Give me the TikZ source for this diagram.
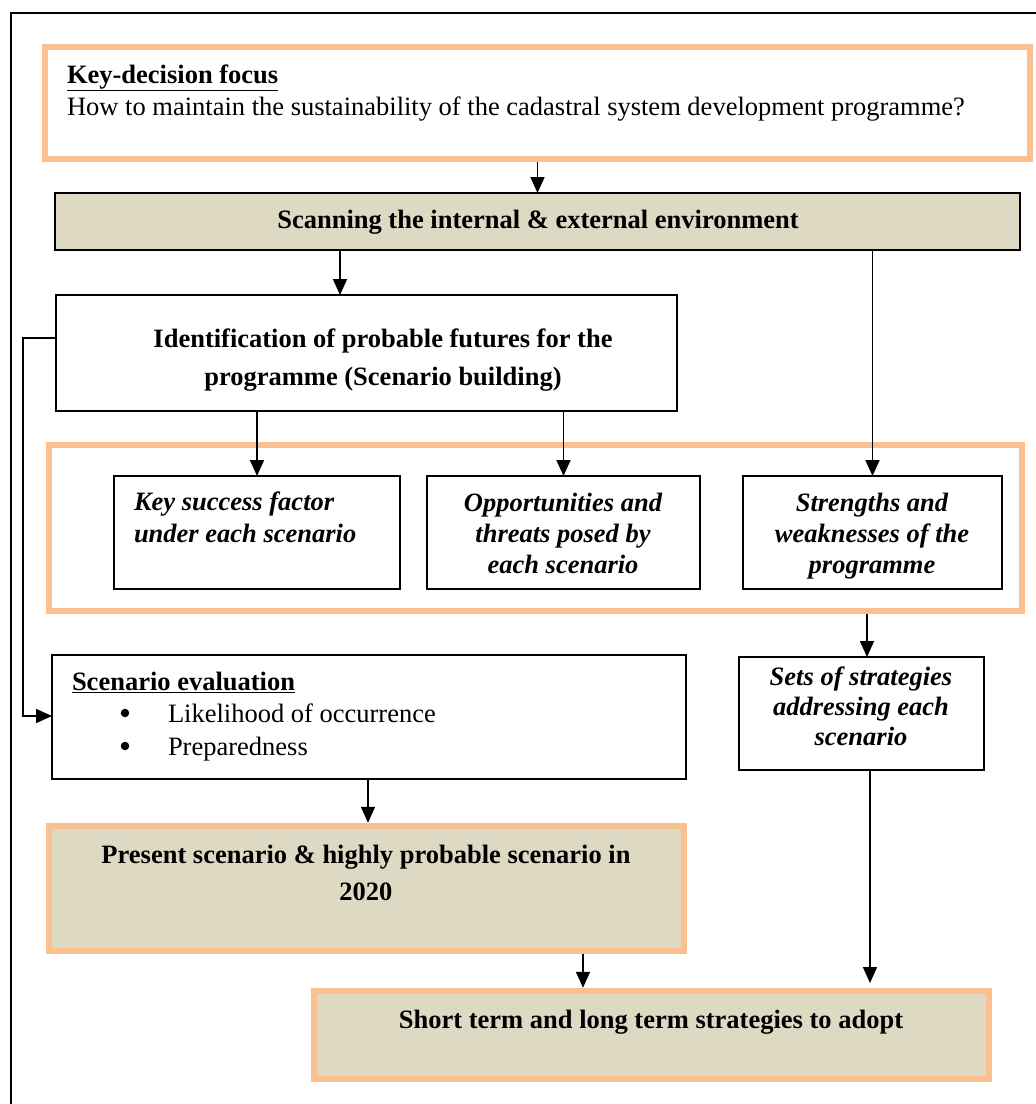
\documentclass[tikz,border=0pt]{standalone}
\usepackage{fontspec}
\setmainfont{Liberation Serif}
\usetikzlibrary{arrows.meta}
\definecolor{peach}{HTML}{FAC090}
\definecolor{khaki}{HTML}{DDD9C3}
\begin{document}
\begin{tikzpicture}[x=1pt,y=-1pt,
  every node/.style={font=\fontsize{26.5}{32}\selectfont, inner sep=0pt, outer sep=0pt},
  plainbox/.style={draw=black, line width=1.5pt, fill=white},
  heavybox/.style={draw=black, line width=2.2pt, fill=white},
  peachbox/.style={draw=peach, line width=6.5pt, outer sep=3.25pt},
  bftext/.style={font=\fontsize{26.5}{#1}\selectfont\bfseries},
  bitext/.style={font=\fontsize{26.5}{#1}\selectfont\bfseries\itshape},
  bulletdot/.style={circle, fill=black, minimum size=8.5pt},
  arr/.style={line width=1.7pt, -{Triangle[length=16pt,width=14pt]}}
]
\useasboundingbox (0,0) rectangle (1036,1104);

% page frame
\draw[line width=2pt] (1045,13) -- (11,13) -- (11,1115);

% boxes
\node[peachbox, fill=white, minimum width=985pt, minimum height=112pt] (key) at (537.5,103) {};
\node[draw=black, line width=1.5pt, fill=khaki, minimum width=965pt, minimum height=57pt] (scan) at (537.5,221.5) {};
\node[heavybox, minimum width=621pt, minimum height=116pt] (ident) at (366.5,353) {};
\node[peachbox, fill=white, minimum width=973pt, minimum height=166pt] (group) at (535.5,528) {};
\node[plainbox, minimum width=286pt, minimum height=113pt] (ksf) at (257,532.5) {};
\node[plainbox, minimum width=273pt, minimum height=113pt] (opp) at (563.5,532.5) {};
\node[plainbox, minimum width=259pt, minimum height=113pt] (str) at (872.5,532.5) {};
\node[plainbox, minimum width=245pt, minimum height=113pt] (sets) at (861.5,713.5) {};
\node[plainbox, minimum width=634pt, minimum height=124pt] (eval) at (369,717) {};
\node[peachbox, fill=khaki, minimum width=635pt, minimum height=125pt] (present) at (366.5,888.5) {};
\node[peachbox, fill=khaki, minimum width=675pt, minimum height=88pt] (short) at (651.5,1035) {};

% connector columns and corners
\coordinate (xa) at (340,0);
\coordinate (xe) at (867,0);
\coordinate (xf) at (368,0);
\coordinate (xg) at (583,0);
\coordinate (fbtop) at (23,338);
\coordinate (fbbot) at (23,716);
\coordinate (shtop) at (870,983);

% connectors
\draw[arr] (key.south) -- (scan.north);
\draw[arr] (scan.south -| xa) -- (ident.north -| xa);
\draw[arr] (ident.south -| ksf.north) -- (ksf.north);
\draw[arr] (ident.south -| opp.north) -- (opp.north);
\draw[arr] (scan.south -| str.north) -- (str.north);
\draw[arr] (group.south -| xe) -- (sets.north -| xe);
\draw[arr] (ident.west |- fbtop) -- (fbtop) -- (fbbot) -- (eval.west |- fbbot);
\draw[arr] (eval.south -| xf) -- (present.north -| xf);
\draw[arr] (present.south -| xg) -- (short.north -| xg);
\draw[arr] (sets.south -| shtop) -- (shtop);

% texts (multi-line nodes are placed by the baseline of their last line)
\node[anchor=base west] (keyt) at (67,83) {\underline{\textbf{Key-decision focus}}};
\node[anchor=base west] (keyq) at (67,115) {How to maintain the sustainability of the cadastral system development programme?};
\node[bftext=32, anchor=base] (scant) at (538,228) {Scanning the internal \& external environment};
\node[bftext=38, anchor=base, align=center] (identt) at (383,385) {Identification of probable futures for the\\programme (Scenario building)};
\node[bitext=32, anchor=base west, align=left] (ksft) at (134,542) {Key success factor\\under each scenario};
\node[bitext=31, anchor=base, align=center] (oppt) at (563,573) {Opportunities and\\threats posed by\\each scenario};
\node[bitext=31, anchor=base, align=center] (strt) at (872,573) {Strengths and\\weaknesses of the\\programme};
\node[bitext=30, anchor=base, align=center] (setst) at (861,745) {Sets of strategies\\addressing each\\scenario};
\node[anchor=base west] (evalt) at (72,690) {\underline{\textbf{Scenario evaluation}}};
\node[bulletdot] (b1) at (125,713) {};
\node[anchor=base west] (l1) at (168,722) {Likelihood of occurrence};
\node[bulletdot] (b2) at (125,746) {};
\node[anchor=base west] (l2) at (168,755) {Preparedness};
\node[bftext=37, anchor=base, align=center] (prest) at (366,900) {Present scenario \& highly probable scenario in\\2020};
\node[bftext=32, anchor=base] (shortt) at (651,1028) {Short term and long term strategies to adopt};
\end{tikzpicture}
\end{document}
